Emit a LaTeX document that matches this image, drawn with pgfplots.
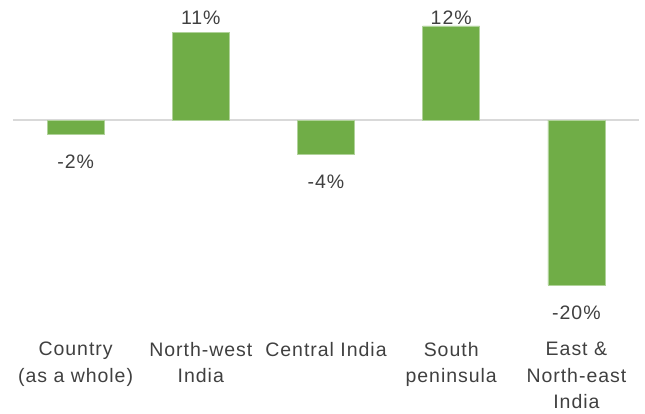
\documentclass[border=0pt]{standalone}
\usepackage{pgfplots}
\pgfplotsset{compat=1.18}
\usepackage{fontspec}
\setmainfont[LetterSpace=5]{Liberation Sans}
\definecolor{barg}{HTML}{70AD47}
\definecolor{txt}{HTML}{404040}
\definecolor{zl}{HTML}{D9D9D9}
\begin{document}
\begin{tikzpicture}
\path[use as bounding box] (0pt,0pt) rectangle (645pt,-413pt);
\begin{axis}[
  at={(13pt,-285pt)}, anchor=south west,
  scale only axis, width=626pt, height=264pt,
  xmin=-0.5, xmax=4.5, ymin=-20, ymax=12,
  axis line style={draw=none},
  ytick=\empty,
  xtick={0,1,2,3,4},
  xticklabels={Country\\(as a whole),North-west\\India,Central India,South\\peninsula,East \&\\North-east\\India},
  x tick label style={font=\fontsize{19.5}{26.5}\selectfont, text=txt, align=center, anchor=north, inner sep=0pt, yshift=-57pt},
  xtick style={draw=none},
  clip=false,
  extra y ticks={0}, extra y tick labels={},
  extra y tick style={grid=major, major grid style={draw=zl, line width=2pt}, tick style={draw=none}},
]
\addplot[ybar, bar width=57pt, fill=barg, draw=barg!55!white, line width=0.6pt,
  nodes near coords,
  point meta=explicit symbolic,
  visualization depends on={y \as \rawy},
  every node near coord/.append style={font=\fontsize{19.5}{22}\selectfont, text=txt, anchor=center, inner sep=0pt,
    yshift={\rawy<0 ? -28 : (12.45-\rawy)*8.25}}
] coordinates {(0,-1.7) [-2\%] (1,10.6) [11\%] (2,-4.1) [-4\%] (3,11.4) [12\%] (4,-20) [-20\%]};
\end{axis}
\end{tikzpicture}
\end{document}
